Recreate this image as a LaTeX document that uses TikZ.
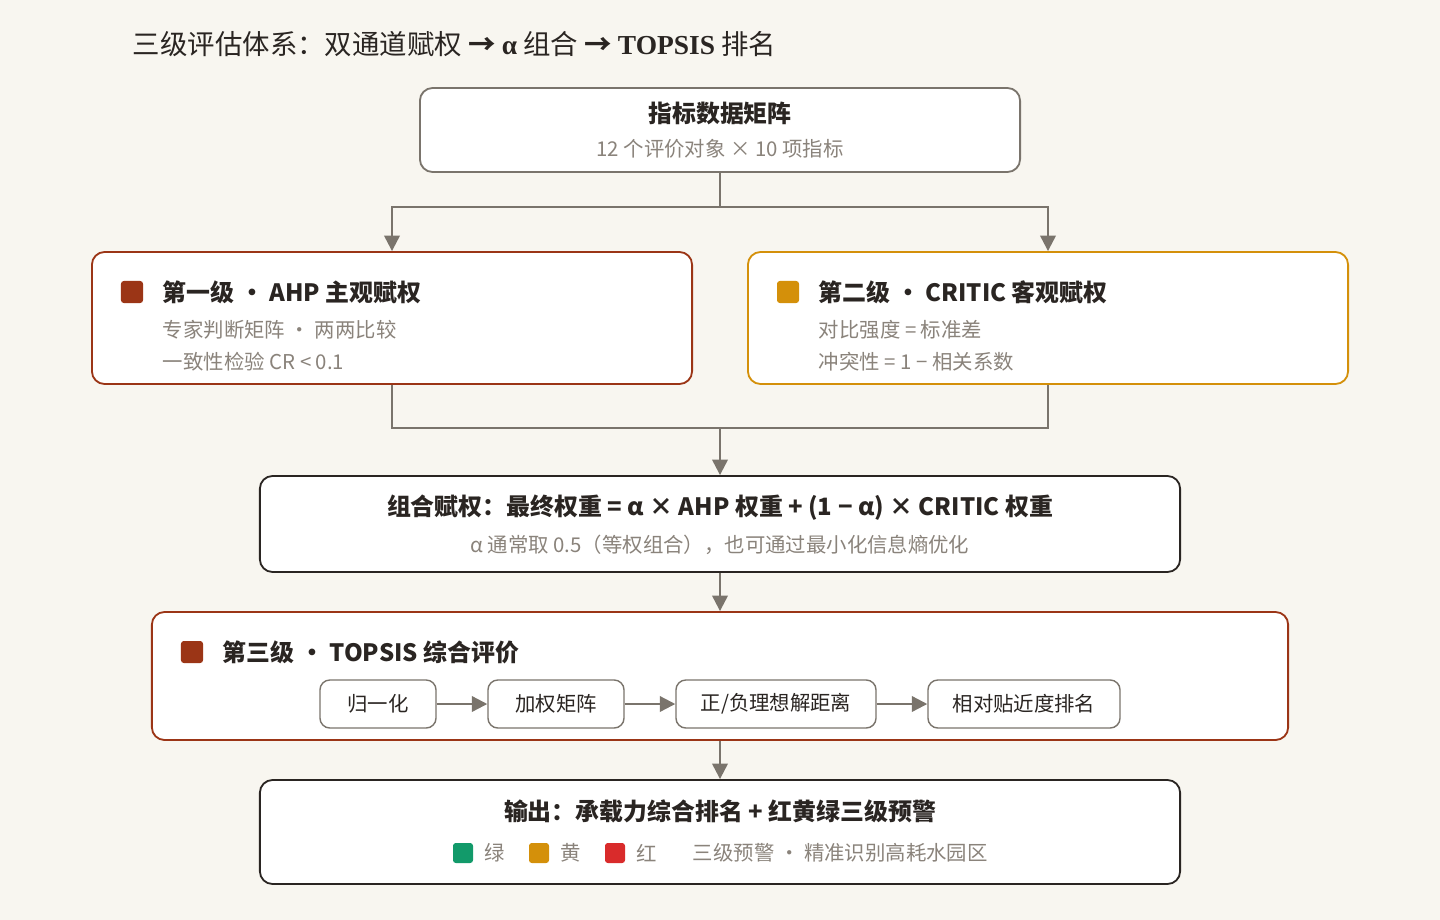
\documentclass[tikz,border=0pt]{standalone}
\usepackage{fontspec}
\setmainfont{Noto Sans CJK SC}
\newfontfamily\lserif{Liberation Serif}
\usetikzlibrary{arrows.meta}
\definecolor{bg}{HTML}{F8F6F0}
\definecolor{gr}{HTML}{7A746C}
\definecolor{rb}{HTML}{9B3516}
\definecolor{gd}{HTML}{D4900A}
\definecolor{dk}{HTML}{2A2522}
\definecolor{tx}{HTML}{2A2522}
\definecolor{st}{HTML}{8A837B}
\definecolor{gn}{HTML}{129A6A}
\definecolor{rd}{HTML}{D92B2B}
\begin{document}
\begin{tikzpicture}[x=0.025cm,y=-0.025cm,
 box/.style={draw,line width=1.3pt,rounded corners=9pt,fill=white},
 sbox/.style={draw=gr,line width=1pt,rounded corners=7pt,fill=white,minimum height=1.2cm,font=\fontsize{14.5}{15}\selectfont,text=tx,inner sep=0pt},
 ttl/.style={font=\fontsize{17}{18}\selectfont\bfseries,text=tx},
 sub/.style={font=\fontsize{14.5}{15}\selectfont,text=st},
 mk/.style={fill=#1,rounded corners=2pt,minimum size=0.55cm,inner sep=0pt},
 ln/.style={draw=gr,line width=1.6pt},
 ar/.style={ln,-{Triangle[length=11pt,width=11pt]}}]
\useasboundingbox[fill=bg] (0,0) rectangle (1440,920);
\node[anchor=west,font=\fontsize{19.5}{20}\selectfont,text=tx] (title) at (128,44) {三级评估体系：双通道赋权 \textbf{→ {\lserif α}} 组合 \textbf{→ {\lserif TOPSIS}} 排名};
% top
\node[box,draw=gr,minimum width=15cm,minimum height=2.1cm] (top) at (720,130) {};
\node[ttl] (topt) at (720,113) {指标数据矩阵};
\node[sub] (tops) at (720,149) {12 个评价对象 × 10 项指标};
% level boxes
\node[box,draw=rb,minimum width=15cm,minimum height=3.3cm] (l1) at (392,318) {};
\node[mk=rb] (m1) at (132,292) {};
\node[ttl,anchor=west] (l1t) at (158,292) {第一级 · AHP 主观赋权};
\node[sub,anchor=west] (l1a) at (158,330) {专家判断矩阵 · 两两比较};
\node[sub,anchor=west] (l1b) at (158,362) {一致性检验 CR < 0.1};
\node[box,draw=gd,minimum width=15cm,minimum height=3.3cm] (l2) at (1048,318) {};
\node[mk=gd] (m2) at (788,292) {};
\node[ttl,anchor=west] (l2t) at (814,292) {第二级 · CRITIC 客观赋权};
\node[sub,anchor=west] (l2a) at (814,330) {对比强度 = 标准差};
\node[sub,anchor=west] (l2b) at (814,362) {冲突性 = 1 − 相关系数};
\coordinate (s1) at (720,207);
\coordinate (m12) at (720,428);
\draw[ln] (top.south) -- (s1);
\draw[ar] (s1) -| (l1.north);
\draw[ar] (s1) -| (l2.north);
\draw[ln] (l1.south) |- (m12) -| (l2.south);
% combine
\node[box,draw=dk,minimum width=23cm,minimum height=2.4cm] (cb) at (720,524) {};
\node[ttl] (cbt) at (720,508) {组合赋权：最终权重 = α × AHP 权重 + (1 − α) × CRITIC 权重};
\node[sub] (cbs) at (720,545) {α 通常取 0.5（等权组合），也可通过最小化信息熵优化};
\draw[ar] (m12) -- (cb.north);
% topsis
\node[box,draw=rb,minimum width=28.4cm,minimum height=3.2cm] (tp) at (720,676) {};
\draw[ar] (cb.south) -- (tp.north);
\node[mk=rb] (m3) at (192,652) {};
\node[ttl,anchor=west] (tpt) at (218,652) {第三级 · TOPSIS 综合评价};
\node[sbox,minimum width=2.9cm] (b1) at (378,704) {归一化};
\node[sbox,minimum width=3.4cm] (b2) at (556,704) {加权矩阵};
\node[sbox,minimum width=5cm] (b3) at (776,704) {正/负理想解距离};
\node[sbox,minimum width=4.8cm] (b4) at (1024,704) {相对贴近度排名};
\draw[ar] (b1) -- (b2);
\draw[ar] (b2) -- (b3);
\draw[ar] (b3) -- (b4);
% output
\node[box,draw=dk,minimum width=23cm,minimum height=2.6cm] (out) at (720,832) {};
\draw[ar] (tp.south) -- (out.north);
\node[ttl] (outt) at (720,811) {输出：承载力综合排名 + 红黄绿三级预警};
\node[mk=gn,minimum size=0.5cm] (g1) at (463,853) {};
\node[sub,anchor=west] (g1t) at (480,853) {绿};
\node[mk=gd,minimum size=0.5cm] (g2) at (539,853) {};
\node[sub,anchor=west] (g2t) at (556,853) {黄};
\node[mk=rd,minimum size=0.5cm] (g3) at (615,853) {};
\node[sub,anchor=west] (g3t) at (632,853) {红};
\node[sub,anchor=west] (g4) at (688,853) {三级预警 · 精准识别高耗水园区};
\end{tikzpicture}
\end{document}
